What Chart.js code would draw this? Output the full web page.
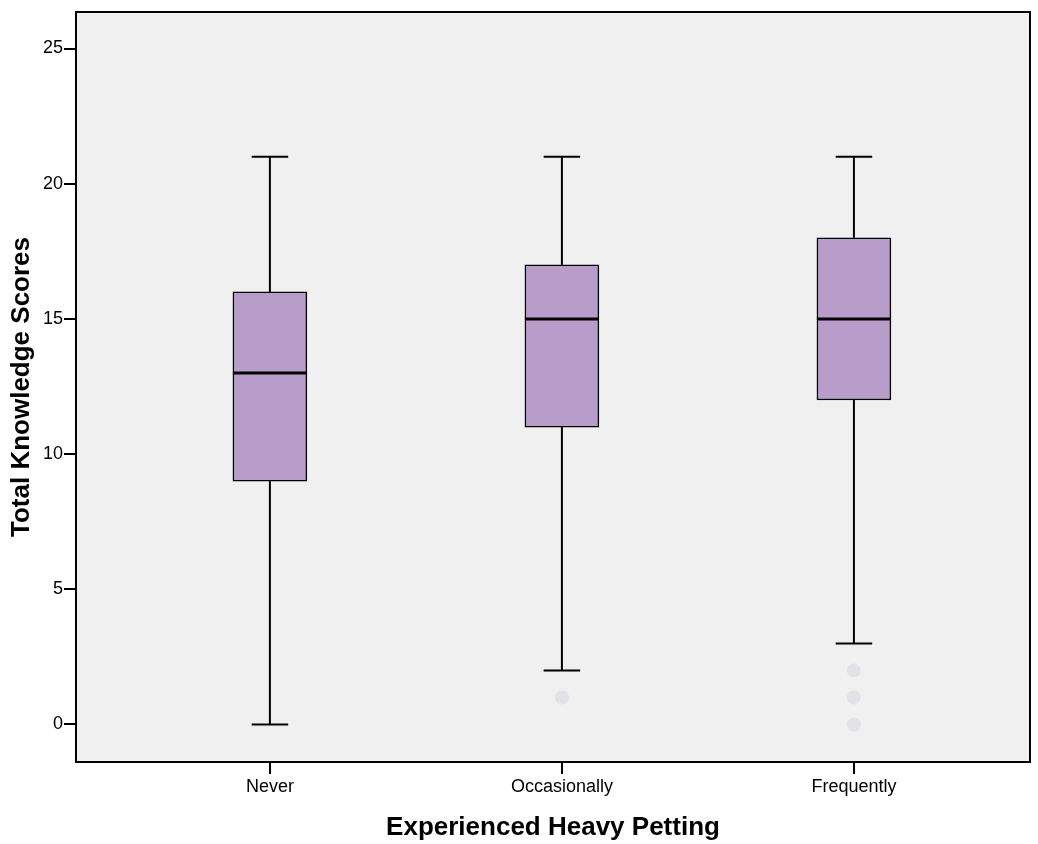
<!DOCTYPE html>
<html>
<head>
<meta charset="utf-8">
<script src="https://cdn.jsdelivr.net/npm/chart.js@4/dist/chart.umd.min.js"></script>
<style>
  html, body { margin: 0; padding: 0; background: #ffffff; }
  #wrap { width: 1038px; height: 844px; }
</style>
</head>
<body>
<div id="wrap"><canvas id="c" width="1038" height="844"></canvas></div>
<script>
const categories = ['Never', 'Occasionally', 'Frequently'];
const whiskerLow = [0, 2, 3];
const q1 = [9, 11, 12];
const medians = [13, 15, 15];
const q3 = [16, 17, 18];
const whiskerHigh = [21, 21, 21];
const outliers = [[], [1], [2, 1, 0]];
const yTicks = [0, 5, 10, 15, 20, 25];

const xPos = categories.map((c, i) => i + 1);
const boxData = xPos.map((x, i) => ({ x: x, y: [q1[i], q3[i]] }));
const outlierData = [];
outliers.forEach((arr, i) => arr.forEach(v => outlierData.push({ x: xPos[i], y: v })));

const FONT = "'Liberation Sans', Arial, sans-serif";

const framePlugin = {
  id: 'frame',
  beforeDraw(chart) {
    const { ctx, chartArea: a } = chart;
    ctx.save();
    ctx.fillStyle = '#f0f0f0';
    ctx.fillRect(a.left, a.top, a.right - a.left, a.bottom - a.top);
    ctx.restore();
  },
  afterDraw(chart) {
    const { ctx, chartArea: a } = chart;
    ctx.save();
    ctx.strokeStyle = '#000';
    ctx.lineWidth = 2;
    ctx.strokeRect(a.left, a.top, a.right - a.left, a.bottom - a.top);
    ctx.restore();
  }
};

const boxPlugin = {
  id: 'boxparts',
  beforeDatasetsDraw(chart) {
    const { ctx, scales: { x, y } } = chart;
    ctx.save();
    ctx.strokeStyle = '#000';
    ctx.lineWidth = 2;
    xPos.forEach((xv, i) => {
      const px = x.getPixelForValue(xv);
      const capHalf = (x.getPixelForValue(xv + 0.0625) - px);
      [[whiskerLow[i], q1[i]], [whiskerHigh[i], q3[i]]].forEach(([end, edge]) => {
        const pe = y.getPixelForValue(end);
        ctx.beginPath();
        ctx.moveTo(px, pe);
        ctx.lineTo(px, y.getPixelForValue(edge));
        ctx.stroke();
        ctx.beginPath();
        ctx.moveTo(px - capHalf, pe);
        ctx.lineTo(px + capHalf, pe);
        ctx.stroke();
      });
    });
    ctx.restore();
  },
  afterDatasetsDraw(chart) {
    const { ctx, scales: { y } } = chart;
    const meta = chart.getDatasetMeta(0);
    ctx.save();
    ctx.strokeStyle = '#000';
    ctx.lineWidth = 3;
    meta.data.forEach((bar, i) => {
      const half = bar.width / 2;
      const py = y.getPixelForValue(medians[i]);
      ctx.beginPath();
      ctx.moveTo(bar.x - half, py);
      ctx.lineTo(bar.x + half, py);
      ctx.stroke();
    });
    ctx.restore();
  }
};

new Chart(document.getElementById('c'), {
  data: {
    datasets: [
      {
        type: 'bar',
        data: boxData,
        backgroundColor: '#b89cc9',
        borderColor: '#000',
        borderWidth: 1.5,
        borderSkipped: false,
        barThickness: 74,
        order: 2
      },
      {
        type: 'scatter',
        data: outlierData,
        pointRadius: 7,
        pointHoverRadius: 7,
        pointBackgroundColor: '#e3e2e9',
        pointBorderColor: '#e3e2e9',
        pointBorderWidth: 0,
        order: 1
      }
    ]
  },
  options: {
    responsive: false,
    animation: false,
    layout: { padding: { top: 12, right: 8, left: 0, bottom: 0 } },
    plugins: { legend: { display: false }, tooltip: { enabled: false } },
    scales: {
      x: {
        type: 'linear',
        offset: false,
        min: 0.336,
        max: 3.603,
        afterBuildTicks(scale) { scale.ticks = xPos.map(v => ({ value: v })); },
        afterFit(scale) { scale.height = 82; },
        ticks: {
          callback: (v) => categories[v - 1],
          color: '#000',
          font: { family: FONT, size: 18 },
          padding: 2,
          maxRotation: 0,
          autoSkip: false
        },
        grid: { offset: false, drawOnChartArea: false, drawTicks: true, tickLength: 12, color: '#000', lineWidth: 2 },
        border: { display: true, color: '#000', width: 2 },
        title: {
          display: true,
          text: 'Experienced Heavy Petting',
          color: '#000',
          font: { family: FONT, size: 26, weight: 'bold' },
          padding: { top: 0, bottom: 1 }
        }
      },
      y: {
        type: 'linear',
        min: -1.387,
        max: 26.35,
        afterBuildTicks(scale) { scale.ticks = yTicks.map(v => ({ value: v })); },
        afterFit(scale) { scale.width = 76; },
        ticks: {
          color: '#000',
          font: { family: FONT, size: 18 },
          padding: 1
        },
        grid: { drawOnChartArea: false, drawTicks: true, tickLength: 12, color: '#000', lineWidth: 2 },
        border: { display: true, color: '#000', width: 2 },
        title: {
          display: true,
          text: 'Total Knowledge Scores',
          color: '#000',
          font: { family: FONT, size: 26, weight: 'bold' },
          padding: { top: 6, bottom: 0 }
        }
      }
    }
  },
  plugins: [framePlugin, boxPlugin]
});
</script>
</body>
</html>
